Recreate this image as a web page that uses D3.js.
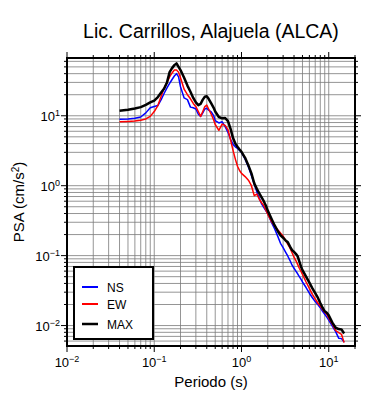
<!DOCTYPE html>
<html>
<head>
<meta charset="utf-8">
<script src="https://cdn.jsdelivr.net/npm/d3@7"></script>
<style>
  body { margin: 0; background: #fff; }
  svg text { font-family: "Liberation Sans", Arial, sans-serif; fill: #000; }
</style>
</head>
<body>
<div id="chart"></div>
<script>
// Periods (s) and spectral values (cm/s^2)
const periods = [0.04, 0.05, 0.06, 0.07, 0.08, 0.09, 0.10, 0.11, 0.12, 0.13, 0.14, 0.15, 0.16, 0.17, 0.18, 0.19, 0.20,
  0.22, 0.24, 0.26, 0.28, 0.30, 0.32, 0.34, 0.36, 0.38, 0.40, 0.42, 0.45, 0.48, 0.50, 0.55, 0.60, 0.65, 0.70, 0.75,
  0.80, 0.85, 0.90, 0.95, 1.0, 1.1, 1.2, 1.3, 1.4, 1.5, 1.6, 1.7, 1.8, 1.9, 2.0, 2.2, 2.4, 2.6, 2.8, 3.0, 3.2, 3.4,
  3.6, 3.8, 4.0, 4.2, 4.4, 4.6, 4.8, 5.0, 5.5, 6.0, 6.5, 7.0, 7.5, 8.0, 8.5, 9.0, 9.5, 10, 11, 12, 13, 14, 15];

const nsValues = [8.9, 9.0, 9.2, 9.6, 11, 13, 13.6, 14, 17, 21, 25, 29, 33, 37, 40, 36, 26,
  18, 17, 13.3, 13, 12.5, 10.5, 9.8, 11, 12.5, 12.8, 12, 11.4, 10, 8.5, 7.9, 8.2, 7.0, 5.8, 4.6,
  3.9, 3.6, 3.4, 3.2, 3.0, 2.4, 1.85, 1.4, 1.05, 0.82, 0.66, 0.55, 0.49, 0.44, 0.40, 0.30, 0.24, 0.19, 0.15, 0.13, 0.112, 0.098,
  0.085, 0.073, 0.066, 0.06, 0.055, 0.05, 0.046, 0.042, 0.035, 0.029, 0.025, 0.022, 0.02, 0.018, 0.016, 0.0145, 0.0132, 0.012, 0.0098, 0.0082, 0.0066, 0.0065, 0.0058];

const ewValues = [8.2, 8.3, 8.4, 8.6, 9.0, 9.8, 11.5, 14, 19, 25, 30, 36, 41, 45, 45, 42, 35,
  24, 20, 17.5, 15, 13.5, 11.5, 9.8, 11.5, 13.5, 14.2, 12.5, 10.5, 8.7, 7.5, 6.2, 7.6, 7.3, 6.3, 4.5,
  3.2, 2.4, 1.9, 1.65, 1.5, 1.35, 1.2, 1.0, 0.72, 0.76, 0.64, 0.57, 0.52, 0.45, 0.39, 0.31, 0.265, 0.235, 0.21, 0.19, 0.165, 0.145,
  0.128, 0.11, 0.095, 0.085, 0.075, 0.066, 0.06, 0.054, 0.042, 0.034, 0.028, 0.024, 0.021, 0.019, 0.017, 0.0155, 0.0145, 0.0128, 0.0105, 0.0085, 0.0079, 0.0075, 0.0057];

const maxValues = [11.8, 12.2, 12.7, 13.3, 14.3, 15.5, 16.5, 18.5, 21.5, 24.5, 30, 42, 48, 53, 56, 50, 45,
  35, 27, 22, 18, 15.5, 14.2, 14.8, 17, 18.7, 19, 17.5, 15, 13, 11.5, 9.6, 9.2, 9.3, 8.4, 6.5,
  4.8, 4.0, 3.6, 3.3, 3.05, 2.5, 1.95, 1.5, 1.08, 0.9, 0.78, 0.68, 0.6, 0.52, 0.44, 0.34, 0.27, 0.225, 0.195, 0.18, 0.165, 0.155,
  0.135, 0.12, 0.113, 0.106, 0.098, 0.083, 0.07, 0.062, 0.05, 0.041, 0.034, 0.029, 0.025, 0.021, 0.018, 0.016, 0.0152, 0.014, 0.011, 0.0093, 0.0089, 0.0088, 0.0077];

const seriesNames = ['NS', 'EW', 'MAX'];
const seriesColors = ['#0000ff', '#ff0000', '#000000'];
const seriesWidths = [1.5, 1.5, 2.5];
const xTickExponents = [-2, -1, 0, 1];
const yTickExponents = [-2, -1, 0, 1];

const chartTitle = 'Lic. Carrillos, Alajuela (ALCA)';

// Layout
const margin = { top: 58, right: 35, bottom: 54, left: 67 };
const totalW = 390, totalH = 400;
const width = totalW - margin.left - margin.right;
const height = totalH - margin.top - margin.bottom;

const svg = d3.select('#chart')
  .append('svg')
  .attr('width', totalW)
  .attr('height', totalH);

const g = svg.append('g')
  .attr('transform', `translate(${margin.left},${margin.top})`);

const xScale = d3.scaleLog().domain([0.01, 20]).range([0, width]);
const yScale = d3.scaleLog().domain([0.0051, 67]).range([height, 0]);

// Grid values: 1..9 x each decade, inside the domain
function gridValues(scale) {
  const [a, b] = scale.domain();
  const out = [];
  for (let e = Math.floor(Math.log10(a)); e <= Math.ceil(Math.log10(b)); e++) {
    for (let m = 1; m <= 9; m++) {
      const v = m * Math.pow(10, e);
      if (v >= a * 0.999 && v <= b * 1.001) out.push({ v: v, major: m === 1 });
    }
  }
  return out;
}

const xGrid = gridValues(xScale);
const yGrid = gridValues(yScale);

// Grid lines
g.append('g').selectAll('line.gx')
  .data(xGrid).enter().append('line')
  .attr('x1', d => xScale(d.v)).attr('x2', d => xScale(d.v))
  .attr('y1', 0).attr('y2', height)
  .attr('stroke', '#7a7a7a').attr('stroke-width', 0.8);

g.append('g').selectAll('line.gy')
  .data(yGrid).enter().append('line')
  .attr('x1', 0).attr('x2', width)
  .attr('y1', d => yScale(d.v)).attr('y2', d => yScale(d.v))
  .attr('stroke', '#7a7a7a').attr('stroke-width', 0.8);

// Ticks outside the frame on all sides
const ticks = g.append('g').attr('stroke', '#000').attr('stroke-width', 1);
xGrid.forEach(d => {
  const x = xScale(d.v), len = d.major ? 6 : 3;
  ticks.append('line').attr('x1', x).attr('x2', x).attr('y1', height).attr('y2', height + len);
  ticks.append('line').attr('x1', x).attr('x2', x).attr('y1', 0).attr('y2', -len);
});
yGrid.forEach(d => {
  const y = yScale(d.v), len = d.major ? 6 : 3;
  ticks.append('line').attr('x1', 0).attr('x2', -len).attr('y1', y).attr('y2', y);
  ticks.append('line').attr('x1', width).attr('x2', width + len).attr('y1', y).attr('y2', y);
});

// Series lines
const lineGen = d3.line()
  .x(d => xScale(d[0]))
  .y(d => yScale(d[1]));

const allSeries = [nsValues, ewValues, maxValues];
const plot = g.append('g');
allSeries.forEach((vals, i) => {
  plot.append('path')
    .datum(periods.map((p, k) => [p, vals[k]]))
    .attr('fill', 'none')
    .attr('stroke', seriesColors[i])
    .attr('stroke-width', seriesWidths[i])
    .attr('stroke-linejoin', 'round')
    .attr('d', lineGen);
});

// Frame
g.append('rect')
  .attr('x', 0).attr('y', 0)
  .attr('width', width).attr('height', height)
  .attr('fill', 'none').attr('stroke', '#000').attr('stroke-width', 2);

// Tick labels with superscript exponents
function powLabel(sel, e) {
  sel.append('tspan').text('10');
  sel.append('tspan').attr('dy', -5).attr('font-size', 9).text(e === 0 ? '0' : (e < 0 ? '\u2212' + (-e) : String(e)));
}

xTickExponents.forEach(e => {
  const t = g.append('text')
    .attr('x', xScale(Math.pow(10, e)))
    .attr('y', height + 21)
    .attr('text-anchor', 'middle')
    .attr('font-size', 13);
  powLabel(t, e);
});

yTickExponents.forEach(e => {
  const t = g.append('text')
    .attr('x', -7)
    .attr('y', yScale(Math.pow(10, e)) + 5)
    .attr('text-anchor', 'end')
    .attr('font-size', 13);
  powLabel(t, e);
});

// Axis titles
svg.append('text')
  .attr('x', margin.left + width / 2)
  .attr('y', 387)
  .attr('text-anchor', 'middle')
  .attr('font-size', 15)
  .text('Periodo (s)');

const yLab = svg.append('text')
  .attr('transform', `translate(24,${margin.top + height / 2}) rotate(-90)`)
  .attr('text-anchor', 'middle')
  .attr('font-size', 15);
yLab.append('tspan').text('PSA (cm/s');
yLab.append('tspan').attr('dy', -5).attr('font-size', 10).text('2');
yLab.append('tspan').attr('dy', 5).text(')');

// Title
svg.append('text')
  .attr('x', margin.left + width / 2)
  .attr('y', 38)
  .attr('text-anchor', 'middle')
  .attr('font-size', 19.5)
  .text(chartTitle);

// Legend
const legend = svg.append('g').attr('transform', 'translate(74,267)');
legend.append('rect')
  .attr('width', 79).attr('height', 72)
  .attr('fill', '#fff').attr('stroke', '#000').attr('stroke-width', 2);
const legendY = [20, 37, 57];
seriesNames.forEach((name, i) => {
  legend.append('line')
    .attr('x1', 8).attr('x2', 24)
    .attr('y1', legendY[i]).attr('y2', legendY[i])
    .attr('stroke', seriesColors[i]).attr('stroke-width', i === 2 ? 2.5 : 2);
  legend.append('text')
    .attr('x', 33).attr('y', legendY[i] + 4.5)
    .attr('font-size', 12)
    .text(name);
});
</script>
</body>
</html>
